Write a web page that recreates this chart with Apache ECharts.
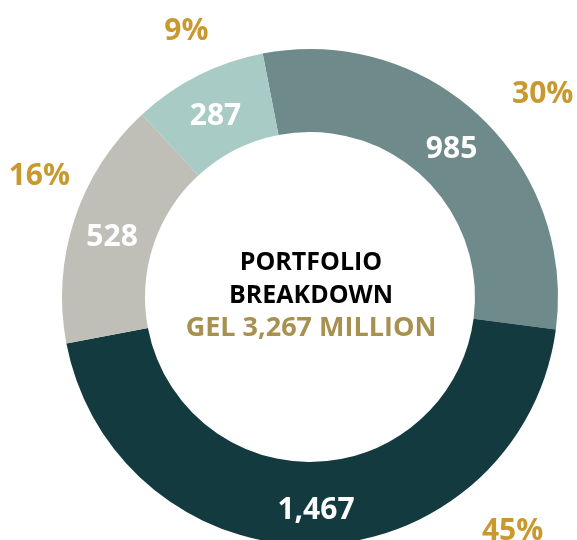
<!DOCTYPE html>
<html>
<head>
<meta charset="utf-8">
<script src="https://cdn.jsdelivr.net/npm/echarts@6/dist/echarts.min.js"></script>
<style>
html,body{margin:0;padding:0;background:#fff;}
#c{width:577px;height:540px;}
</style>
</head>
<body>
<div id="c"></div>
<script>
const categories = ['A', 'B', 'C', 'D'];
const values = [985, 1467, 528, 287];
const sliceColors = ['#6f8a8a', '#133a3f', '#c0bfb7', '#a8cbc5'];
const titleLines = ['PORTFOLIO', 'BREAKDOWN'];
const totalLine = 'GEL 3,267 MILLION';
// label nudges (placement only)
const pctShift = [[25, 18], [194, -68], [17, -25], [13, 5]];
const valShift = [[-2, 5], [0, 4], [1, 6], [0, 6]];

const total = values.reduce((a, b) => a + b, 0);
const fmtNum = v => v.toLocaleString('en-US');
const fmtPct = v => Math.round(v / total * 100) + '%';

const chart = echarts.init(document.getElementById('c'), null, {renderer: 'canvas'});
const FONT = '"Open Sans", "Noto Sans", sans-serif';
const cx = 310, cy = 297;

chart.setOption({
  animation: false,
  backgroundColor: '#ffffff',
  series: [
    {
      type: 'pie',
      center: [cx, cy],
      radius: [165, 248],
      startAngle: 101,
      clockwise: true,
      silent: true,
      data: categories.map((n, i) => ({name: n, value: values[i], itemStyle: {color: sliceColors[i]}})),
      label: {
        show: true,
        position: 'inside',
        formatter: p => fmtNum(p.value),
        color: '#ffffff',
        fontFamily: FONT,
        fontWeight: 'bold',
        fontSize: 30
      },
      labelLayout: p => ({dx: valShift[p.dataIndex][0], dy: valShift[p.dataIndex][1]}),
      labelLine: {show: false},
      itemStyle: {borderWidth: 0}
    },
    {
      type: 'pie',
      center: [cx, cy],
      radius: [252, 348],
      startAngle: 101,
      clockwise: true,
      silent: true,
      data: categories.map((n, i) => ({name: n, value: values[i], itemStyle: {color: 'rgba(0,0,0,0)'}})),
      label: {
        show: true,
        position: 'inside',
        formatter: p => fmtPct(p.value),
        color: '#c9992f',
        fontFamily: FONT,
        fontWeight: 'bold',
        fontSize: 30
      },
      labelLayout: p => ({dx: pctShift[p.dataIndex][0], dy: pctShift[p.dataIndex][1]}),
      labelLine: {show: false},
      itemStyle: {borderWidth: 0}
    }
  ],
  graphic: [
    {
      type: 'text',
      x: cx + 1,
      y: cy - 2,
      style: {
        text: '{a|' + titleLines[0] + '}\n{a|' + titleLines[1] + '}\n{b|' + totalLine + '}',
        align: 'center',
        verticalAlign: 'middle',
        rich: {
          a: {fontFamily: FONT, fontWeight: 'bold', fontSize: 25, lineHeight: 33, fill: '#000000', align: 'center'},
          b: {fontFamily: FONT, fontWeight: 'bold', fontSize: 27, lineHeight: 31, fill: '#a89150', align: 'center'}
        }
      }
    }
  ]
});
</script>
</body>
</html>
